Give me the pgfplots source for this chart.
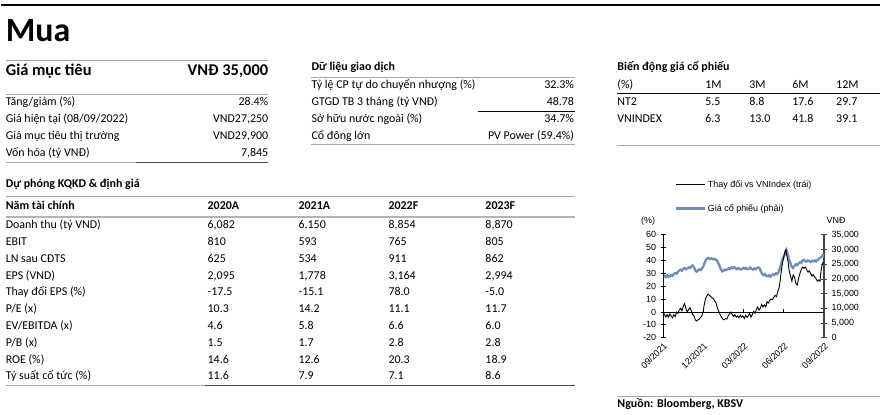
\documentclass[border=0pt]{standalone}
\usepackage{pgfplots}
\pgfplotsset{compat=1.18}
\usepackage{fontspec}
\setmainfont{Carlito}
\newfontfamily\chartfont{Liberation Sans}
\definecolor{pblue}{RGB}{111,141,182}
\definecolor{lgray}{RGB}{166,166,166}
\definecolor{dgray}{RGB}{70,70,70}
\newcommand{\rt}{\fontsize{12}{14}\selectfont}
\newcommand{\cf}{\chartfont\fontsize{9}{10}\selectfont}
\tikzset{L/.style={anchor=base west, inner sep=0pt, font=\rt},
         R/.style={anchor=base east, inner sep=0pt, font=\rt},
         B/.style={anchor=base west, inner sep=0pt, font=\rt\bfseries}}
\newcommand{\trow}[6]{%
  \node[L] at (5,#1) {#2};
  \node[L] at (207,#1) {#3};
  \node[L] at (298,#1) {#4};
  \node[L] at (388,#1) {#5};
  \node[L] at (485,#1) {#6};}

\pgfplotstableread{
m v
0.00 21400
0.10 21000
0.20 20600
0.30 21200
0.40 20700
0.50 20900
0.60 21300
0.70 21100
0.80 21700
0.90 22000
1.00 21800
1.10 22400
1.20 22900
1.30 23100
1.40 22800
1.50 23500
1.60 23700
1.70 23300
1.80 23600
1.90 23900
2.00 23700
2.10 24300
2.20 24600
2.30 24000
2.40 22800
2.50 22500
2.60 23000
2.70 23300
2.80 23000
2.90 23600
3.00 24300
3.10 25600
3.20 26500
3.30 27000
3.40 27100
3.50 26800
3.60 27000
3.70 26700
3.80 26900
3.90 26600
4.00 26400
4.10 25500
4.20 24500
4.30 23300
4.40 22600
4.50 22800
4.60 23200
4.70 23000
4.80 23300
4.90 23600
5.00 23400
5.10 23900
5.20 23700
5.30 24000
5.40 23600
5.50 23300
5.60 23700
5.70 23500
5.80 23200
5.90 23500
6.00 23800
6.10 23500
6.20 23700
6.30 23300
6.40 23500
6.50 23900
6.60 23400
6.70 23200
6.80 23600
6.90 23300
7.00 23700
7.10 23900
7.20 23600
7.30 22500
7.40 21600
7.50 21300
7.60 21700
7.70 21000
7.80 20900
7.90 21300
8.00 20800
8.10 21200
8.20 21600
8.30 21400
8.40 21900
8.50 21700
8.60 22300
8.70 23500
8.80 25200
8.90 26800
9.00 27600
9.10 28700
9.20 29800
9.30 28300
9.40 26500
9.50 25300
9.60 24000
9.70 23700
9.80 24500
9.90 25000
10.00 24700
10.10 25300
10.20 25700
10.30 25500
10.40 26300
10.50 26500
10.60 26000
10.70 25900
10.80 26300
10.90 26100
11.00 25800
11.10 26200
11.20 26000
11.30 26300
11.40 25900
11.50 26400
11.60 26800
11.70 27200
11.80 27500
11.90 28000
12.00 27400
}\pricetable

\pgfplotstableread{
m p
0.00 0
0.10 -2
0.20 -4
0.30 -2
0.40 -4
0.50 -1.5
0.60 -3
0.70 -4.5
0.80 -2
0.90 -3.5
1.00 0
1.10 -1
1.20 1.5
1.30 3
1.40 1
1.50 4.5
1.60 6.5
1.70 2.5
1.80 0
1.90 2
2.00 3.5
2.10 1
2.20 -2
2.30 -3
2.40 -6
2.50 -7
2.60 -6
2.70 -5.5
2.80 -4
2.90 -2.5
3.00 1
3.05 5
3.15 10
3.25 12.5
3.35 14
3.45 13
3.55 12
3.65 11
3.75 10.5
3.85 8.5
3.95 7
4.05 3
4.15 0.5
4.25 -2
4.35 -4
4.45 -5.5
4.55 -6
4.65 -5
4.75 -5.5
4.85 -3
4.95 -1.5
5.05 0
5.15 -2
5.25 -3.5
5.35 -2
5.45 -4
5.55 -3
5.65 -4.5
5.75 -2.5
5.85 -4
5.95 -3
6.05 -5
6.15 -2.5
6.25 -4
6.35 -3
6.45 -1
6.55 -4
6.65 -2
6.75 0.5
6.85 -1
6.95 2
7.05 4
7.15 1.5
7.25 3
7.35 6
7.45 4
7.55 5.5
7.65 4
7.75 8
7.85 7
7.95 9
8.05 10
8.15 9.5
8.25 11.5
8.35 13
8.45 12
8.55 16
8.65 19
8.72 24
8.80 31
8.90 38
9.00 43
9.08 47
9.15 48.5
9.22 44
9.30 40
9.40 32
9.50 28
9.60 24
9.70 29
9.80 27
9.90 22
10.00 21
10.10 26
10.20 30
10.30 33
10.40 35
10.50 34
10.60 35
10.70 33
10.80 31
10.90 32
11.00 30
11.10 28
11.20 29
11.30 27
11.40 26
11.50 24
11.60 25
11.70 24
11.75 30
11.82 35
11.90 38
12.00 39
}\changetable

\begin{document}
\begin{tikzpicture}[x=1bp,y=1bp]
\path[fill=white] (0,0) rectangle (886,415);
\begin{scope}[yshift=415bp, y=-1bp]
\draw[black,line width=1.2bp] (0,5) -- (880,5);
\node[anchor=base west, inner sep=0pt, font=\fontsize{34}{36}\selectfont\bfseries] at (5,42) {Mua};

% left block
\draw[lgray, line width=0.8bp] (5,60) -- (268,60);
\node[anchor=base west, inner sep=0pt, font=\fontsize{16.5}{18}\selectfont\bfseries] at (5,76) {Giá mục tiêu};
\node[anchor=base east, inner sep=0pt, font=\fontsize{16.5}{18}\selectfont\bfseries] at (268,76) {VNĐ 35,000};
\draw[lgray, line width=0.8bp] (5,94) -- (268,94);
\node[L] at (5,106) {Tăng/giảm (\%)};            \node[R] at (268,106) {28.4\%};
\node[L] at (5,123) {Giá hiện tại (08/09/2022)};   \node[R] at (268,123) {VND27,250};
\node[L] at (5,140) {Giá mục tiêu thị trường};     \node[R] at (268,140) {VND29,900};
\node[L] at (5,157) {Vốn hóa (tỷ VNĐ)};            \node[R] at (268,157) {7,845};
\draw[lgray, line width=0.8bp] (5,163) -- (135,163);
\draw[dgray, line width=0.8bp] (135,163) -- (268,163);

% middle block
\node[B] at (311,71) {Dữ liệu giao dịch};
\draw[lgray, line width=0.8bp] (311,77) -- (575,77);
\node[L] at (311,88.5) {Tỷ lệ CP tự do chuyển nhượng (\%)}; \node[R] at (574,88.5) {32.3\%};
\node[L] at (311,105.5) {GTGD TB 3 tháng (tỷ VNĐ)};          \node[R] at (574,105.5) {48.78};
\draw[black, line width=0.8bp] (478,111) -- (575,111);
\node[L] at (311,122.5) {Sở hữu nước ngoài (\%)};            \node[R] at (574,122.5) {34.7\%};
\node[L] at (311,139.5) {Cổ đông lớn};                       \node[R] at (574,139.5) {PV Power (59.4\%)};
\draw[lgray, line width=0.8bp] (311,145) -- (575,145);

% right block
\node[B] at (617,70.5) {Biến động giá cổ phiếu};
\node[L] at (617,88.5) {(\%)};
\node[L] at (705,88.5) {1M}; \node[L] at (749,88.5) {3M}; \node[L] at (792,88.5) {6M}; \node[L] at (836,88.5) {12M};
\draw[black, line width=0.9bp] (617,94) -- (880,94);
\node[L] at (617,105.5) {NT2};
\node[L] at (705,105.5) {5.5}; \node[L] at (749,105.5) {8.8}; \node[L] at (792,105.5) {17.6}; \node[L] at (836,105.5) {29.7};
\node[L] at (617,122.5) {VNINDEX};
\node[L] at (705,122.5) {6.3}; \node[L] at (749,122.5) {13.0}; \node[L] at (792,122.5) {41.8}; \node[L] at (836,122.5) {39.1};
\draw[lgray, line width=0.8bp] (617,146) -- (880,146);

% lower table
\node[B] at (5,187.5) {Dự phóng KQKD \& định giá};
\draw[lgray, line width=0.8bp] (5,197) -- (575,197);
\node[B] at (5,210) {Năm tài chính};
\node[B] at (207,210) {2020A}; \node[B] at (298,210) {2021A}; \node[B] at (388,210) {2022F}; \node[B] at (485,210) {2023F};
\draw[lgray!85, line width=2.5bp] (5,217) -- (575,217);
\trow{229}{Doanh thu (tỷ VND)}{6,082}{6,150}{8,854}{8,870}
\trow{245.8}{EBIT}{810}{593}{765}{805}
\trow{262.6}{LN sau CĐTS}{625}{534}{911}{862}
\trow{279.4}{EPS (VND)}{2,095}{1,778}{3,164}{2,994}
\trow{296.2}{Thay đổi EPS (\%)}{-17.5}{-15.1}{78.0}{-5.0}
\trow{313}{P/E (x)}{10.3}{14.2}{11.1}{11.7}
\trow{329.8}{EV/EBITDA (x)}{4.6}{5.8}{6.6}{6.0}
\trow{346.6}{P/B (x)}{1.5}{1.7}{2.8}{2.8}
\trow{363.4}{ROE (\%)}{14.6}{12.6}{20.3}{18.9}
\trow{380.2}{Tỷ suất cổ tức (\%)}{11.6}{7.9}{7.1}{8.6}
\draw[lgray, line width=0.8bp] (5,386) -- (205,386);
\draw[dgray, line width=0.8bp] (205,386) -- (575,386);

% source
\draw[lgray, line width=0.8bp] (617,397) -- (880,397);
\node[B] at (617,407.5) {Nguồn: Bloomberg, KBSV};

% chart labels
\node[font=\cf, inner sep=0pt] at (648,221) {(\%)};
\node[font=\cf, inner sep=0pt] at (836,221) {VNĐ};
\end{scope}

% right axis: price
\begin{axis}[at={(663bp,77bp)}, anchor=south west, scale only axis,
  width=161bp, height=103bp, xmin=0, xmax=12, ymin=0, ymax=35000,
  axis y line*=right, axis x line=none,
  y axis line style={dgray, line width=1.4bp},
  ytick={0,5000,...,35000}, scaled y ticks=false,
  tick align=center, major tick length=6bp,
  ytick style={dgray, line width=0.9bp},
  yticklabel style={font=\cf, xshift=1bp},
  /pgf/number format/.cd, 1000 sep={,}, assume math mode=true]
\addplot[pblue, line width=2.3bp] table[x=m, y=v] {\pricetable};
\end{axis}

% left axis: change vs VNIndex
\begin{axis}[at={(663bp,77bp)}, anchor=south west, scale only axis,
  width=161bp, height=103bp, xmin=0, xmax=12, ymin=-20, ymax=60,
  axis y line*=left, axis x line*=bottom,
  x axis line style={draw=none}, xtick style={draw=none},
  y axis line style={black, line width=1bp},
  xtick={0,3,6,9,12}, xticklabels={09/2021,12/2021,03/2022,06/2022,09/2022},
  xticklabel style={font=\cf, rotate=45, anchor=north east, inner sep=1bp},
  ytick={-20,-10,...,60},
  tick align=center, major tick length=5bp,
  ytick style={black, line width=0.9bp},
  yticklabel style={font=\cf, xshift=-1bp},
  /pgf/number format/assume math mode=true,
  legend style={at={(axis description cs:0.07,1.55)}, anchor=north west, draw=none, fill=none,
    inner sep=0pt, row sep=11bp, font=\cf, cells={anchor=west}},
  legend image code/.code={\draw[#1] (0bp,0bp) -- (29bp,0bp);}]
\addplot[black, line width=0.9bp, forget plot] coordinates {(0,0) (12,0)};
\draw[black, line width=0.8bp] (axis cs:3,0) -- (axis cs:3,2);
\draw[black, line width=0.8bp] (axis cs:6,0) -- (axis cs:6,2);
\draw[black, line width=0.8bp] (axis cs:9,0) -- (axis cs:9,2);
\addplot[black, line width=0.9bp] table[x=m, y=p] {\changetable};
\addlegendentry{Thay đổi vs VNIndex (trái)}
\addlegendimage{pblue, line width=2.3bp}
\addlegendentry{Giá cổ phiếu (phải)}
\end{axis}
\end{tikzpicture}
\end{document}
